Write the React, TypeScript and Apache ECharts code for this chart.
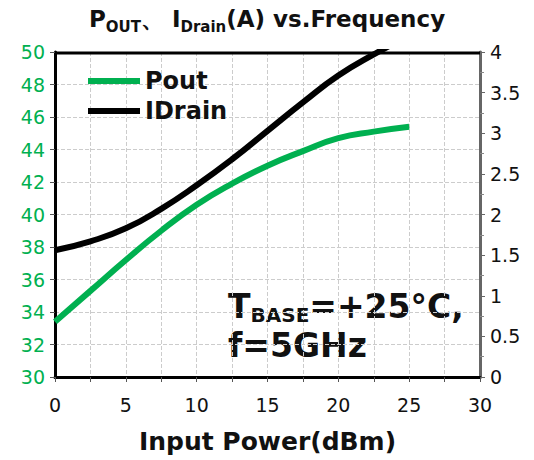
import React, { useEffect, useRef } from "react";
import * as echarts from "echarts";

const inputPower = [0, 2.5, 5, 7.5, 10, 12.5, 15, 17.5, 20, 22.5, 25];
const poutValues = [33.4, 35.3, 37.2, 39.0, 40.6, 41.9, 43.0, 43.9, 44.7, 45.1, 45.4];
const idrainValues = [1.56, 1.67, 1.83, 2.07, 2.36, 2.68, 3.03, 3.38, 3.71, 3.97, 4.2];
const leftTicks = [30, 50, 2];
const rightTicks = [0, 4, 0.5];

const FONT = "DejaVu Sans";

export default function App() {
  const ref = useRef<HTMLDivElement>(null);
  useEffect(() => {
    const chart = echarts.init(ref.current!, null, { renderer: "svg" });
    chart.setOption({
      animation: false,
      backgroundColor: "#fff",
      textStyle: { fontFamily: FONT },
      legend: {
        orient: "vertical",
        left: 83,
        top: 64,
        itemWidth: 52,
        itemHeight: 6,
        itemGap: 6,
        icon: "rect",
        textStyle: { fontSize: 24, fontWeight: "bold", color: "#111", fontFamily: FONT },
        data: ["Pout", "IDrain"],
      },
      grid: { left: 55, right: 54, top: 52, bottom: 83, containLabel: false },
      xAxis: {
        type: "value",
        min: 0,
        max: 30,
        interval: 2.5,
        name: "Input Power(dBm)",
        nameLocation: "middle",
        nameGap: 52,
        nameTextStyle: { fontSize: 25, fontWeight: "bold", color: "#111", fontFamily: FONT },
        axisLine: { show: true, lineStyle: { color: "#000", width: 3 } },
        axisTick: { show: true, length: 5, lineStyle: { color: "#555" } },
        axisLabel: {
          fontSize: 19,
          color: "#111",
          margin: 18,
          formatter: (v: number) => (v % 5 === 0 ? String(v) : ""),
        },
        splitLine: { show: true, lineStyle: { color: "#ccc", type: "dashed", width: 1 } },
      },
      yAxis: [
        {
          type: "value",
          min: leftTicks[0],
          max: leftTicks[1],
          interval: leftTicks[2],
          position: "left",
          axisLine: { show: true, lineStyle: { color: "#000", width: 3 } },
          axisTick: { show: true, length: 5, lineStyle: { color: "#555" } },
          axisLabel: { fontSize: 19, color: "#00b050", margin: 10 },
          splitLine: { show: true, lineStyle: { color: "#ccc", type: "dashed", width: 1 } },
        },
        {
          type: "value",
          min: rightTicks[0],
          max: rightTicks[1],
          interval: rightTicks[2],
          position: "right",
          axisLine: { show: true, lineStyle: { color: "#666", width: 3 } },
          axisTick: { show: true, length: 5, lineStyle: { color: "#666" } },
          minorTick: { show: true, splitNumber: 2, length: 4, lineStyle: { color: "#888" } },
          axisLabel: { fontSize: 19, color: "#111", margin: 10 },
          splitLine: { show: false },
        },
      ],
      graphic: [
        {
          type: "line",
          z: 10,
          shape: { x1: 55, y1: 53, x2: 480, y2: 53 },
          style: { stroke: "#000", lineWidth: 3 },
        },
        {
          type: "text",
          left: "center",
          top: 7,
          style: {
            text: "{m|P}{s|OUT}{m|、 I}{s|Drain}{m|(A) vs.Frequency}",
            rich: {
              m: { fontSize: 23, fontWeight: "bold", fontFamily: FONT, fill: "#111", lineHeight: 30 },
              s: { fontSize: 15, fontWeight: "bold", fontFamily: FONT, fill: "#111", lineHeight: 30, verticalAlign: "bottom", padding: [12, 0, 0, 0] },
            },
          },
        },
        {
          type: "text",
          left: 228,
          top: 290,
          style: {
            text: "{b|T}{s|BASE}{b|=+25°C,}",
            rich: {
              b: { fontSize: 33, fontWeight: "bold", fontFamily: FONT, fill: "#111", lineHeight: 36 },
              s: { fontSize: 20, fontWeight: "bold", fontFamily: FONT, fill: "#111", verticalAlign: "bottom", lineHeight: 24, padding: [12, 0, 0, 0] },
            },
          },
        },
        {
          type: "text",
          left: 228,
          top: 329,
          style: {
            text: "f=5GHz",
            fontSize: 33,
            fontWeight: "bold",
            fontFamily: FONT,
            fill: "#111",
          },
        },
      ],
      series: [
        {
          name: "Pout",
          type: "line",
          yAxisIndex: 0,
          smooth: true,
          symbol: "none",
          lineStyle: { color: "#00b050", width: 6 },
          itemStyle: { color: "#00b050" },
          data: inputPower.map((x, i) => [x, poutValues[i]]),
        },
        {
          name: "IDrain",
          type: "line",
          yAxisIndex: 1,
          smooth: true,
          symbol: "none",
          clip: true,
          lineStyle: { color: "#000", width: 6 },
          itemStyle: { color: "#000" },
          data: inputPower.map((x, i) => [x, idrainValues[i]]),
        },
      ],
    });
    return () => chart.dispose();
  }, []);
  return (
    <div
      ref={ref}
      style={{ position: "absolute", left: 0, top: 0, width: 534, height: 460 }}
    />
  );
}
